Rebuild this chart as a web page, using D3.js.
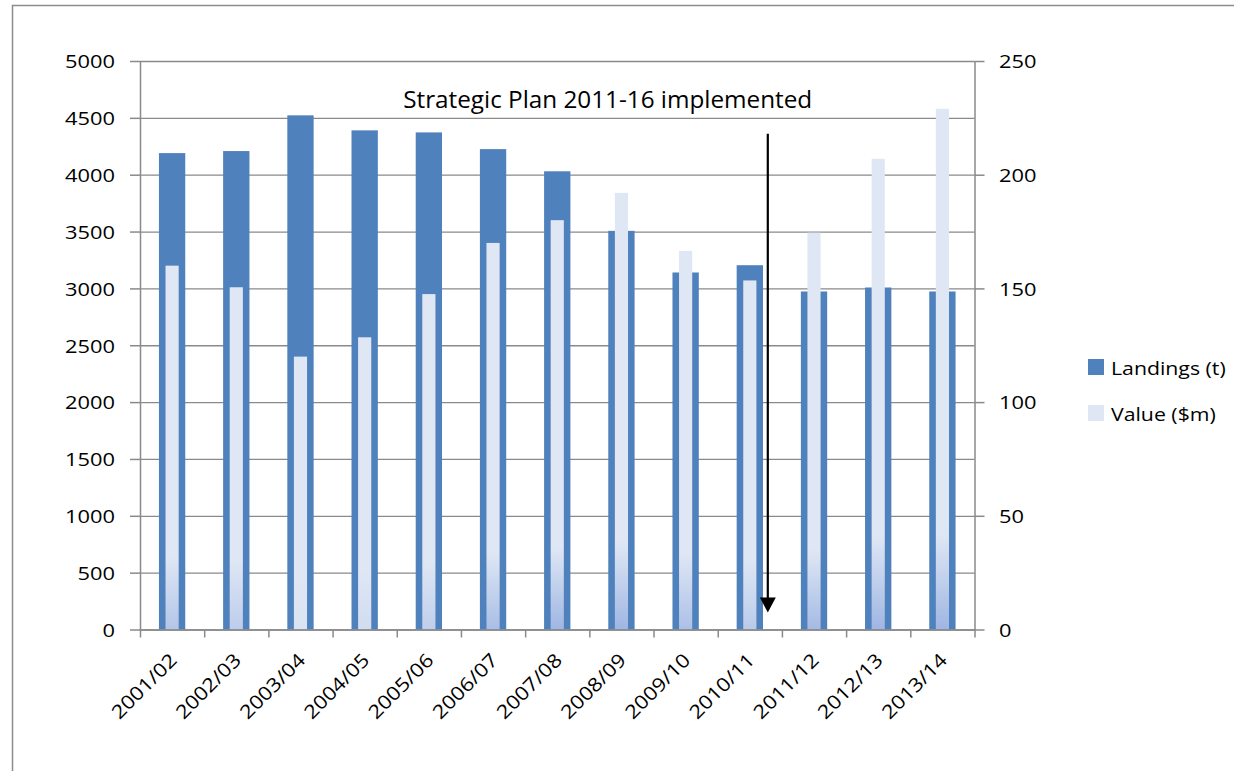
<!DOCTYPE html>
<html>
<head>
<meta charset="utf-8">
<script src="https://cdn.jsdelivr.net/npm/d3@7"></script>
<style>
  html, body { margin: 0; padding: 0; background: #ffffff; }
  svg { display: block; font-family: "Open Sans", "Liberation Sans", sans-serif; }
  svg text { font-family: "Open Sans", "Liberation Sans", sans-serif; }
</style>
</head>
<body>
<svg id="chart" width="1234" height="771"></svg>
<script>
// ---- data ----
const categories = ["2001/02","2002/03","2003/04","2004/05","2005/06","2006/07","2007/08",
                    "2008/09","2009/10","2010/11","2011/12","2012/13","2013/14"];
const landings = [4190, 4208, 4522, 4390, 4372, 4225, 4030, 3506, 3140, 3204, 2973, 3008, 2973];
const values   = [160, 150.5, 120, 128.5, 147.5, 170, 180, 192, 166.5, 153.5, 174.5, 207, 229];
const leftTicks  = [0, 500, 1000, 1500, 2000, 2500, 3000, 3500, 4000, 4500, 5000];
const rightTicks = [0, 50, 100, 150, 200, 250];
const seriesNames = ["Landings (t)", "Value ($m)"];
const annotation = "Strategic Plan 2011-16 implemented";

// ---- layout ----
const svg = d3.select("#chart");
const margin = {left: 140, top: 61, right: 1234 - 974.5, bottom: 771 - 629.5};
const W = 1234 - margin.left - margin.right;
const H = 771 - margin.top - margin.bottom;
const gridColor = "#8a8a8a";
const landColor = "#4f81bd";
const valLight = "#dfe7f4";
const valBlue = "#9fb6e3";
const FONT = "'Open Sans', 'Liberation Sans', sans-serif";
const SX = 1.15; // horizontal stretch of text, as in the reference

// outer chart border
svg.append("path")
  .attr("d", "M12.5,771 L12.5,5.5 L1234,5.5")
  .attr("fill", "none").attr("stroke", "#8c8c8c").attr("stroke-width", 1.5);

const g = svg.append("g").attr("transform", `translate(${margin.left},${margin.top})`);

const x = d3.scaleBand().domain(categories).range([0, W]).padding(0);
const xIdx = d3.scaleLinear().domain([0, categories.length]).range([0, W]);
const yL = d3.scaleLinear().domain([0, 5000]).range([H, 0]);
const yR = d3.scaleLinear().domain([0, 250]).range([H, 0]);

// gridlines
const grid = g.append("g").attr("class", "grid")
  .call(d3.axisLeft(yL).tickValues(leftTicks).tickSize(-W).tickFormat(""));
grid.select(".domain").remove();
grid.selectAll("line").attr("stroke", gridColor).attr("stroke-width", 1.3);

// gradients for value bars
const defs = svg.append("defs");
const barH = values.map(v => H - yR(v));
values.forEach((v, i) => {
  const h = barH[i];
  const t = Math.max(0, Math.min(1, (h - 260) / 150));
  const bottom = d3.interpolateRgb(valLight, valBlue)(t);
  const grad = defs.append("linearGradient").attr("id", "vg" + i)
    .attr("x1", 0).attr("y1", 0).attr("x2", 0).attr("y2", 1);
  grad.append("stop").attr("offset", 0).attr("stop-color", valLight);
  grad.append("stop").attr("offset", 1 - Math.min(0.2, 95 / h)).attr("stop-color", valLight);
  grad.append("stop").attr("offset", 1).attr("stop-color", bottom);
});

// landings bars
const lw = x.bandwidth() * 0.41;
g.append("g").selectAll("rect").data(landings).join("rect")
  .attr("x", (d, i) => x(categories[i]) + x.bandwidth() / 2 - lw / 2)
  .attr("y", d => yL(d))
  .attr("width", lw)
  .attr("height", d => H - yL(d))
  .attr("fill", landColor);

// value bars
const vw = x.bandwidth() * 0.205;
g.append("g").selectAll("rect").data(values).join("rect")
  .attr("x", (d, i) => x(categories[i]) + x.bandwidth() / 2 - vw / 2)
  .attr("y", d => yR(d))
  .attr("width", vw)
  .attr("height", d => H - yR(d))
  .attr("fill", (d, i) => `url(#vg${i})`);

// axes
function styleAxis(sel) {
  sel.attr("font-family", FONT).attr("font-size", 19);
  sel.select(".domain").attr("stroke", gridColor).attr("stroke-width", 1.5);
  sel.selectAll(".tick line").attr("stroke", gridColor).attr("stroke-width", 1.5);
  sel.selectAll(".tick text").attr("fill", "#000");
}
function stretchTicks(sel, xoff) {
  sel.selectAll(".tick text")
    .attr("x", 0)
    .attr("dy", "0.36em")
    .attr("transform", `translate(${xoff},0) scale(${SX},1)`);
}
const axL = g.append("g")
  .call(d3.axisLeft(yL).tickValues(leftTicks).tickSize(10).tickSizeOuter(0).tickPadding(14).tickFormat(d3.format("d")));
styleAxis(axL);
stretchTicks(axL, -25);

const axR = g.append("g").attr("transform", `translate(${W},0)`)
  .call(d3.axisRight(yR).tickValues(rightTicks).tickSize(10).tickSizeOuter(0).tickPadding(14).tickFormat(d3.format("d")));
styleAxis(axR);
stretchTicks(axR, 24.5);

// bottom axis: boundary ticks
const axB = g.append("g").attr("transform", `translate(0,${H})`)
  .call(d3.axisBottom(xIdx).tickValues(d3.range(categories.length + 1)).tickSize(8).tickSizeOuter(0).tickFormat(""));
styleAxis(axB);

// bottom axis: category labels
const axLab = g.append("g").attr("transform", `translate(0,${H})`)
  .call(d3.axisBottom(x).tickSize(0));
axLab.attr("font-family", FONT).attr("font-size", 19);
axLab.select(".domain").remove();
axLab.selectAll(".tick text")
  .attr("fill", "#000")
  .attr("x", 0).attr("y", 0).attr("dy", 0)
  .attr("text-anchor", "end")
  .attr("transform", `translate(6,32) rotate(-45) scale(${SX},1)`);

// annotation text
g.append("text")
  .attr("x", xIdx(4.1))
  .attr("y", yL(4590))
  .attr("font-size", 24)
  .attr("textLength", 409)
  .attr("lengthAdjust", "spacingAndGlyphs")
  .attr("fill", "#000")
  .text(annotation);

// arrow
const ax = xIdx(9.78);
g.append("line")
  .attr("x1", ax).attr("x2", ax)
  .attr("y1", yL(4360)).attr("y2", yL(150) - 6)
  .attr("stroke", "#000").attr("stroke-width", 2.2);
g.append("path")
  .attr("d", `M${ax - 8},${yL(150) - 15} L${ax + 8},${yL(150) - 15} L${ax},${yL(150)} Z`)
  .attr("fill", "#000");

// legend
const legend = svg.append("g").attr("transform", "translate(1088,359)");
const legColors = [landColor, valLight];
seriesNames.forEach((name, i) => {
  const row = legend.append("g").attr("transform", `translate(0,${i * 46})`);
  row.append("rect").attr("width", 16).attr("height", 16).attr("fill", legColors[i]);
  row.append("text")
    .attr("transform", `translate(23,16) scale(1.12,1)`)
    .attr("font-size", 19).attr("fill", "#000").text(name);
});
</script>
</body>
</html>
